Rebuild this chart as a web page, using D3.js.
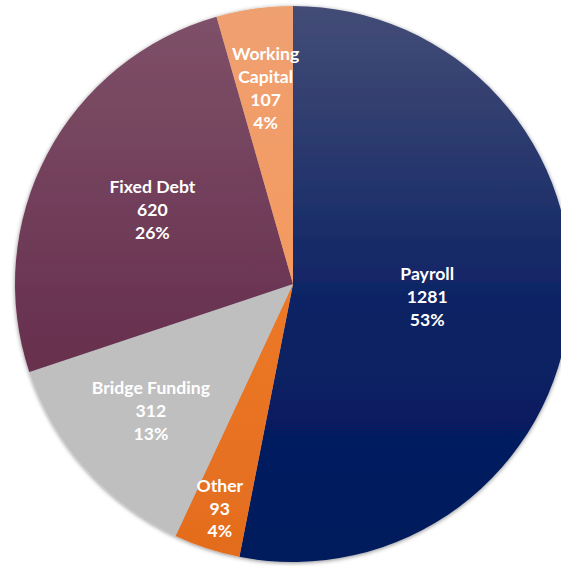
<!DOCTYPE html>
<html>
<head>
<meta charset="utf-8">
<script src="https://cdn.jsdelivr.net/npm/d3@7"></script>
<style>
  html, body { margin: 0; padding: 0; background: #fff; overflow: hidden; }
  text { font-family: Lato, "Open Sans", sans-serif; font-weight: bold; }
</style>
</head>
<body>
<div id="chart"></div>
<script>
// slices in drawing order, clockwise from 12 o'clock
var categories = ["Payroll", "Other", "Bridge Funding", "Fixed Debt", "Working Capital"];
var values = [1281, 93, 312, 620, 107];
var wrapped = ["Working Capital"];

// gradient colours for each slice: top, middle, bottom
var colorTop = ["#444d76", "#f08030", "#bfbfbf", "#7f5169", "#efa071"];
var colorMid = ["#0c2264", "#ec7826", "#bfbfbf", "#6a3452", "#f5995e"];
var colorBot = ["#001a5c", "#e36c1e", "#bfbfbf", "#5e2546", "#f7965a"];

// how far out each label sits, as a share of the radius
var labelRadius = [0.485, 0.85, 0.685, 0.572, 0.71];

var width = 561, height = 566,
    cx = 293, cy = 284, radius = 278,
    lineHeight = 22.8;

var total = d3.sum(values);
var data = categories.map(function(c, i) { return {name: c, value: values[i], i: i}; });

var svg = d3.select("#chart").append("svg")
    .attr("width", width)
    .attr("height", height);

var defs = svg.append("defs");

var shadow = defs.append("filter")
    .attr("id", "shadow")
    .attr("x", "-10%").attr("y", "-10%")
    .attr("width", "120%").attr("height", "120%");
shadow.append("feDropShadow")
    .attr("dx", 0).attr("dy", 1)
    .attr("stdDeviation", 2.2)
    .attr("flood-color", "#000")
    .attr("flood-opacity", 0.45);

// vertical gradients, in the frame of the pie group (centre at 0,0)
data.forEach(function(d) {
    var g = defs.append("linearGradient")
        .attr("id", "grad" + d.i)
        .attr("gradientUnits", "userSpaceOnUse")
        .attr("x1", 0).attr("y1", -radius)
        .attr("x2", 0).attr("y2", radius);
    g.append("stop").attr("offset", "0%").attr("stop-color", colorTop[d.i]);
    g.append("stop").attr("offset", "55%").attr("stop-color", colorMid[d.i]);
    g.append("stop").attr("offset", "100%").attr("stop-color", colorBot[d.i]);
});

var pie = d3.pie()
    .sort(null)
    .value(function(d) { return d.value; });

var arc = d3.arc()
    .innerRadius(0)
    .outerRadius(radius);

var focus = svg.append("g")
    .attr("transform", "translate(" + cx + "," + cy + ")");

var arcs = pie(data);

focus.append("g")
    .attr("filter", "url(#shadow)")
    .selectAll("path")
    .data(arcs)
    .enter().append("path")
    .attr("d", arc)
    .style("fill", function(d) { return "url(#grad" + d.data.i + ")"; });

focus.append("g")
    .selectAll("text")
    .data(arcs)
    .enter().append("text")
    .attr("text-anchor", "middle")
    .attr("font-size", 17.6)
    .attr("fill", "#fff")
    .each(function(d) {
        var r = radius * labelRadius[d.data.i];
        var a = (d.startAngle + d.endAngle) / 2;
        var x = Math.sin(a) * r, y = -Math.cos(a) * r;
        var name = d.data.name;
        var lines = wrapped.indexOf(name) >= 0 ? name.split(" ") : [name];
        lines = lines.concat([String(d.data.value),
                              Math.round(d.data.value / total * 100) + "%"]);
        var n = lines.length;
        var t = d3.select(this);
        lines.forEach(function(l, k) {
            t.append("tspan")
                .attr("x", x)
                .attr("y", y + (k - (n - 1) / 2) * lineHeight + 6)
                .text(l);
        });
    });
</script>
</body>
</html>
